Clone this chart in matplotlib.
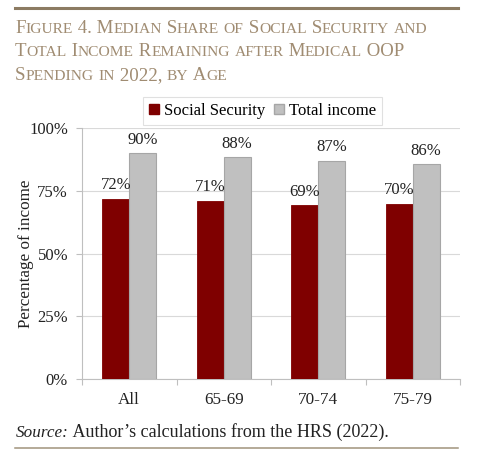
import matplotlib
matplotlib.use("Agg")
import matplotlib.pyplot as plt
import numpy as np
from matplotlib.lines import Line2D
from matplotlib.patches import Patch

categories = ["All", "65-69", "70-74", "75-79"]
social_security = [71.8, 71.0, 69.3, 69.7]
total_income = [89.9, 88.3, 87.0, 85.6]
ss_labels = ["72%", "71%", "69%", "70%"]
ti_labels = ["90%", "88%", "87%", "86%"]
yticks = [0, 25, 50, 75, 100]
ytick_labels = ["0%", "25%", "50%", "75%", "100%"]
title_lines = ["Figure 4. Median Share of Social Security and",
               "Total Income Remaining after Medical OOP",
               "Spending in 2022, by Age"]

W, H = 500, 462
plt.rcParams['font.family'] = ['Liberation Serif', 'DejaVu Serif']
fig = plt.figure(figsize=(W/100, H/100), dpi=100)

def fx(x): return x / W
def fy(y): return 1 - y / H

ax = fig.add_axes([fx(82), fy(379), (460-82)/W, (379-128)/H])
x = np.arange(len(categories))
bw = 0.285
red = "#7F0000"
grey = "#C0C0C0"
txtcol = "#222222"
ax.bar(x - bw/2, social_security, bw, color=red, edgecolor=red, linewidth=0.6, zorder=3)
ax.bar(x + bw/2, total_income, bw, color=grey, edgecolor="#A6A6A6", linewidth=0.8, zorder=3)
for i in range(len(categories)):
    ax.annotate(ss_labels[i], (x[i] - bw/2, social_security[i]), xytext=(0, 4),
                textcoords="offset points", ha="center", va="bottom", fontsize=12, color=txtcol)
    ax.annotate(ti_labels[i], (x[i] + bw/2, total_income[i]), xytext=(0, 4),
                textcoords="offset points", ha="center", va="bottom", fontsize=12, color=txtcol)

ax.set_xlim(-0.5, len(categories) - 0.5)
ax.set_ylim(0, 100)
ax.set_yticks(yticks)
ax.set_yticklabels(ytick_labels, fontsize=12, color=txtcol)
ax.set_xticks(x)
ax.set_xticklabels(categories, fontsize=12.3, color=txtcol)
ax.tick_params(axis='x', length=0, pad=9)
ax.set_xticks(np.arange(-0.5, len(categories)), minor=True)
ax.tick_params(axis='x', which='minor', length=4, color="#BFBFBF", width=0.8)
ax.tick_params(axis='y', length=4, color="#BFBFBF", width=0.8, pad=6)
for s in ['top', 'right']:
    ax.spines[s].set_visible(False)
for s in ['left', 'bottom']:
    ax.spines[s].set_color("#BFBFBF")
    ax.spines[s].set_linewidth(0.8)
ax.yaxis.grid(True, color="#D9D9D9", linewidth=0.8, zorder=0)
ax.set_axisbelow(True)
ax.set_ylabel("Percentage of income", fontsize=12.3, color=txtcol)
ax.yaxis.set_label_coords((34 - 82) / 378, 0.5)

handles = [Patch(facecolor=red, edgecolor=red, label="Social Security"),
           Patch(facecolor=grey, edgecolor="#A6A6A6", label="Total income")]
leg = fig.legend(handles=handles, loc="center", bbox_to_anchor=(fx(262.5), fy(111)), ncol=2,
                 fontsize=12, frameon=True, fancybox=False, edgecolor="#D9D9D9",
                 handlelength=0.6, handleheight=0.6, handletextpad=0.3, columnspacing=0.5,
                 borderpad=0.35)
leg.get_frame().set_linewidth(0.8)

# rules
fig.add_artist(Line2D([fx(15), fx(458)], [fy(7.5), fy(7.5)], color="#8C7B62", linewidth=2.2))
fig.add_artist(Line2D([fx(15), fx(458)], [fy(447.5), fy(447.5)], color="#A0937C", linewidth=1.1))

# small caps title
tcol = "#A08C72"
big = 13.6
small = big * 0.82
renderer = fig.canvas.get_renderer()

def smallcaps(line, x0, ybase):
    xpos = x0
    runs = []
    cur = ""
    cur_big = None
    for ch in line:
        isbig = not ch.islower()
        if cur_big is None or isbig == cur_big:
            cur += ch
            cur_big = isbig
        else:
            runs.append((cur, cur_big))
            cur = ch
            cur_big = isbig
    if cur:
        runs.append((cur, cur_big))
    for txt, isbig in runs:
        t = fig.text(fx(xpos), fy(ybase), txt.upper(), fontsize=big if isbig else small,
                     color=tcol, va="baseline", ha="left")
        bb = t.get_window_extent(renderer=renderer)
        xpos += bb.width

for i, line in enumerate(title_lines):
    smallcaps(line, 15, 33 + i * 23.5)

# source
t1 = fig.text(fx(16), fy(437), "Source:", fontsize=12.3, style="italic", color=txtcol, va="baseline")
bb = t1.get_window_extent(renderer=renderer)
fig.text(fx(16) + bb.width / W, fy(437), " Author’s calculations from the HRS (2022).",
         fontsize=13, color=txtcol, va="baseline")

fig.savefig("out.png", dpi=100)
